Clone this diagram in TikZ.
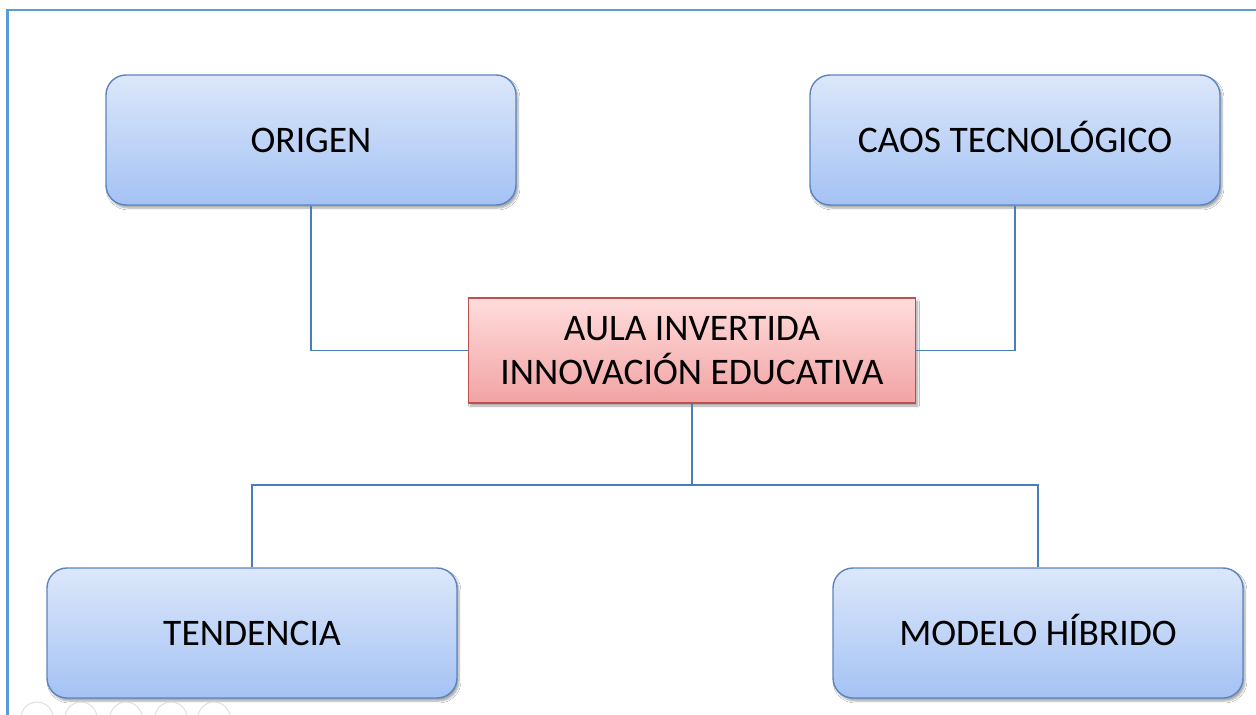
\documentclass[tikz,border=0pt]{standalone}
\usepackage{fontspec}
\setmainfont{Carlito}
\usetikzlibrary{shadows.blur}
\definecolor{frameblue}{HTML}{5B9BD5}
\definecolor{linkblue}{HTML}{4A7EBB}
\definecolor{boxtop}{HTML}{DCE7FA}
\definecolor{boxbot}{HTML}{A4C2F4}
\definecolor{boxedge}{HTML}{5A85C0}
\definecolor{redtop}{HTML}{FFDCDC}
\definecolor{redbot}{HTML}{F2A3A3}
\definecolor{rededge}{HTML}{C0504D}
\tikzset{
  bluebox/.style={draw=boxedge, line width=1.4pt, rounded corners=20pt,
    top color=boxtop, bottom color=boxbot, minimum width=410pt, minimum height=130pt,
    inner sep=0pt, font=\fontsize{37.5}{44}\selectfont, text height=28pt, text depth=4pt,
    blur shadow={shadow xshift=2pt, shadow yshift=-3pt, shadow blur steps=6, shadow opacity=35}},
  redbox/.style={draw=rededge, line width=1.2pt,
    top color=redtop, bottom color=redbot, minimum width=447pt, minimum height=105pt,
    inner sep=0pt, align=center, font=\fontsize{37.5}{44}\selectfont,
    blur shadow={shadow xshift=2pt, shadow yshift=-3pt, shadow blur steps=6, shadow opacity=35}},
  conn/.style={draw=linkblue, line width=1.2pt},
  uictl/.style={draw=gray!25, line width=1pt}
}
\begin{document}
\begin{tikzpicture}[x=1pt,y=-1pt]
\useasboundingbox (0,0) rectangle (1256,715);
\fill[white] (0,0) rectangle (1256,715);
\draw[frameblue, line width=2.5pt] (7.5,715) -- (7.5,10) -- (1256,10);

\node[bluebox] (origen) at (311,140) {ORIGEN};
\node[bluebox] (caos) at (1015,140) {CAOS TECNOLÓGICO};
\node[bluebox] (tend) at (252,633) {TENDENCIA};
\node[bluebox] (modelo) at (1038,633) {MODELO HÍBRIDO};
\node[redbox] (centro) at (692,350.5) {\raisebox{-3pt}{AULA INVERTIDA}\\\raisebox{-3pt}{INNOVACIÓN EDUCATIVA}};

\coordinate (hub) at (692,485);
\draw[conn] (origen.south) |- (centro.west);
\draw[conn] (caos.south) |- (centro.east);
\draw[conn] (centro.south) -- (hub);
\draw[conn] (hub) -| (tend.north);
\draw[conn] (hub) -| (modelo.north);

\foreach \cx in {37,81,126,171,214} {
  \draw[uictl] (\cx,718) circle (16pt);
}
\end{tikzpicture}
\end{document}
